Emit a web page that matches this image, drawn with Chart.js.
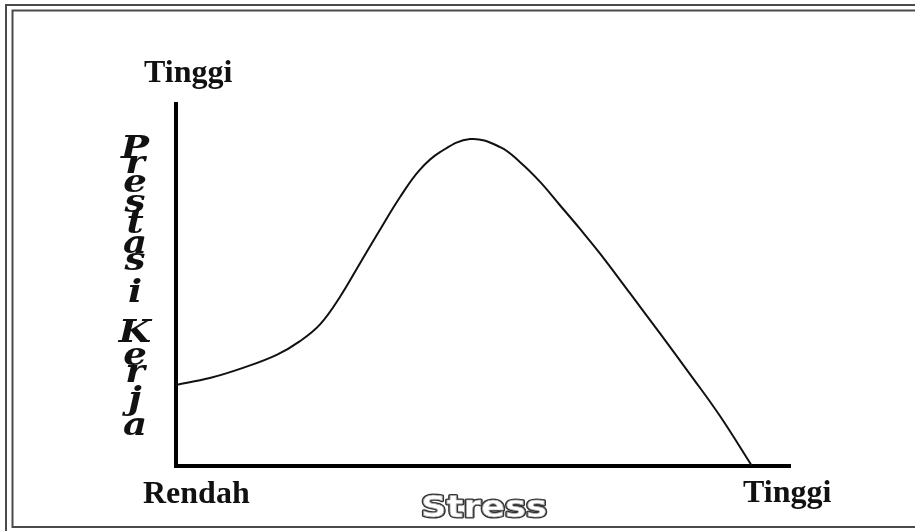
<!DOCTYPE html>
<html>
<head>
<meta charset="utf-8">
<script src="https://cdn.jsdelivr.net/npm/chart.js@4"></script>
<style>
  html, body { margin: 0; padding: 0; background: #fff; }
  canvas { display: block; }
</style>
</head>
<body>
<canvas id="c" width="915" height="531"></canvas>
<script>
// Stress level (0 = Rendah, 100 = Tinggi) and performance (Prestasi Kerja)
const stressLevel = [0, 5.5, 10.9, 16.4, 20.2, 23.5, 26.7, 30.0, 33.2, 36.5, 39.7, 43.0, 47.9,
  52.8, 56.0, 59.3, 62.5, 65.8, 69.1, 73.9, 78.8, 83.7, 88.6, 93.8];
const performance = [22.4, 24.3, 27.1, 30.7, 34.5, 39.2, 46.7, 56.1, 65.2, 74.3, 81.8, 86.7, 90.3,
  88.1, 84.0, 78.5, 72.1, 65.5, 58.6, 47.8, 36.7, 25.4, 13.8, 0];
const yTopLabel = 'Tinggi';
const xLowLabel = 'Rendah';
const xHighLabel = 'Tinggi';
const xTitle = 'Stress';
const yTitle = 'Prestasi Kerja';

const points = stressLevel.map((x, i) => ({ x: x, y: performance[i] }));

const decor = {
  id: 'decor',
  beforeDraw(chart) {
    const ctx = chart.ctx;
    ctx.save();
    ctx.fillStyle = '#fff';
    ctx.fillRect(0, 0, chart.width, chart.height);
    ctx.restore();
  },
  afterDraw(chart) {
    const ctx = chart.ctx;
    const a = chart.chartArea;
    ctx.save();
    // double frame
    ctx.strokeStyle = '#4a4a4a';
    ctx.lineWidth = 2;
    ctx.beginPath();
    ctx.moveTo(6, chart.height); ctx.lineTo(6, 5); ctx.lineTo(chart.width, 5);
    ctx.stroke();
    ctx.beginPath();
    ctx.moveTo(chart.width, 10.5); ctx.lineTo(12.5, 10.5); ctx.lineTo(12.5, 527); ctx.lineTo(chart.width, 527);
    ctx.stroke();

    // corner labels
    ctx.fillStyle = '#111';
    ctx.font = 'bold 32px "Liberation Serif", "Times New Roman", serif';
    ctx.textBaseline = 'alphabetic';
    ctx.textAlign = 'left';
    ctx.fillText(yTopLabel, a.left - 32, 82);
    ctx.fillText(xLowLabel, a.left - 33, 503);
    ctx.fillText(xHighLabel, 743, 502);

    // outlined x title
    ctx.save();
    ctx.translate(421, 517);
    ctx.scale(1.18, 1);
    ctx.font = 'bold 30px "DejaVu Sans", sans-serif';
    ctx.lineJoin = 'round';
    ctx.strokeStyle = '#333';
    ctx.lineWidth = 3.2;
    ctx.strokeText(xTitle, 0, 0);
    ctx.fillStyle = '#fff';
    ctx.fillText(xTitle, 0, 0);
    ctx.strokeStyle = '#aaa';
    ctx.lineWidth = 0.7;
    ctx.strokeText(xTitle, 0, 0);
    ctx.restore();

    // vertical stacked y title
    ctx.fillStyle = '#111';
    ctx.textAlign = 'center';
    const baselines = [158, 173, 192, 212, 233, 253, 270, 302, null, 342, 365, 382, 409, 435];
    const chars = yTitle.split('');
    chars.forEach((ch, i) => {
      if (ch === ' ' || baselines[i] == null) return;
      ctx.save();
      ctx.translate(135, baselines[i]);
      ctx.scale(1.2, 1);
      ctx.font = 'bold italic 31px "DejaVu Serif", serif';
      ctx.fillText(ch, 0, 0);
      ctx.restore();
    });
    ctx.restore();
  }
};

new Chart(document.getElementById('c'), {
  type: 'line',
  data: {
    datasets: [{
      data: points,
      borderColor: '#111',
      borderWidth: 2,
      pointRadius: 0,
      fill: false,
      tension: 0.4
    }]
  },
  options: {
    responsive: false,
    animation: false,
    devicePixelRatio: 1,
    layout: { padding: { left: 176, right: 125, top: 104, bottom: 65 } },
    plugins: { legend: { display: false }, tooltip: { enabled: false } },
    scales: {
      x: {
        type: 'linear', min: 0, max: 100,
        grid: { display: false, drawTicks: false, tickLength: 0 },
        ticks: { display: false },
        border: { display: true, color: '#000', width: 4 }
      },
      y: {
        type: 'linear', min: 0, max: 100,
        grid: { display: false, drawTicks: false, tickLength: 0 },
        ticks: { display: false },
        border: { display: true, color: '#000', width: 4 }
      }
    }
  },
  plugins: [decor]
});
</script>
</body>
</html>
